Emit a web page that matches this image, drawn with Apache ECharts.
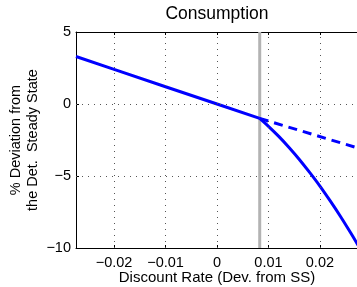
<!DOCTYPE html>
<html>
<head>
<meta charset="utf-8">
<script src="https://cdn.jsdelivr.net/npm/echarts@6/dist/echarts.min.js"></script>
<style>
  html, body { margin: 0; padding: 0; background: #fff; }
  #chart { width: 357px; height: 287px; }
</style>
</head>
<body>
<div id="chart"></div>
<script>
// x range of the plot (discount rate, dev. from SS)
const xRange = [-0.0274, 0.0274];
const xTicks = [-0.02, -0.01, 0, 0.01, 0.02];
const yTicks = [-10, -5, 0, 5];

// before the kink: one line
const commonX = [-0.0274, -0.02, -0.01, 0, 0.0083];
const commonY = [3.3, 2.4, 1.2, 0.0, -1.0];

// after the kink: solid curve
const curveX = [0.0083, 0.0100, 0.0120, 0.0140, 0.0160, 0.0180, 0.0200, 0.0220, 0.0240, 0.0260, 0.0274];
const curveY = [-1.0, -1.55, -2.25, -3.02, -3.85, -4.75, -5.70, -6.73, -7.81, -8.96, -9.8];

// after the kink: dashed continuation
const dashX = [0.0083, 0.0274];
const dashY = [-1.0, -3.06];

// vertical gray marker
const thresholdX = 0.0083;
const yRange = [-10, 5];

const pairs = (xs, ys) => xs.map((x, i) => [x, ys[i]]);
const minus = (s) => s.replace("-", "\u2212");

const font = "'Liberation Sans', Arial, Helvetica, sans-serif";
const chart = echarts.init(document.getElementById("chart"), null, { renderer: "canvas" });

const option = {
  animation: false,
  title: {
    text: "Consumption",
    left: 217,
    top: 5,
    padding: 0,
    textAlign: "center",
    textStyle: { fontFamily: font, fontSize: 17.5, fontWeight: "normal", color: "#000" },
  },
  grid: {
    left: 76,
    right: -1,
    top: 32,
    bottom: 39,
    outerBoundsMode: "none",
  },
  xAxis: [
    {
      type: "value",
      min: xRange[0],
      max: xRange[1],
      position: "bottom",
      axisLine: { show: true, onZero: false, lineStyle: { color: "#000", width: 1 } },
      axisTick: { show: true, inside: true, length: 3, lineStyle: { color: "#000" }, customValues: xTicks },
      axisLabel: {
        color: "#000",
        fontFamily: font,
        fontSize: 14.5,
        margin: 7,
        customValues: xTicks,
        formatter: (v) => minus(v === 0 ? "0" : v.toFixed(2)),
      },
      splitLine: { show: false },
      name: "Discount Rate (Dev. from SS)",
      nameLocation: "middle",
      nameGap: 22,
      nameMoveOverlap: false,
      nameTextStyle: { fontFamily: font, fontSize: 15, color: "#000", verticalAlign: "top" },
    },
    {
      type: "value",
      min: xRange[0],
      max: xRange[1],
      position: "top",
      axisLine: { show: true, onZero: false, lineStyle: { color: "#000", width: 1 } },
      axisTick: { show: true, inside: true, length: 3, lineStyle: { color: "#000" }, customValues: xTicks },
      axisLabel: { show: false },
      splitLine: { show: false },
    },
  ],
  yAxis: {
    type: "value",
    min: yRange[0],
    max: yRange[1],
    interval: 5,
    axisLine: { show: true, onZero: false, lineStyle: { color: "#000", width: 1 } },
    axisTick: { show: true, inside: true, length: 3, lineStyle: { color: "#000" } },
    axisLabel: {
      color: "#000",
      fontFamily: font,
      fontSize: 14.5,
      margin: 5,
      formatter: (v) => minus(String(v)),
    },
    splitLine: { show: false },
    name: "% Deviation from\nthe Det.  Steady State",
    nameLocation: "middle",
    nameGap: 35,
    nameMoveOverlap: false,
    nameTextStyle: { fontFamily: font, fontSize: 14.5, color: "#000", lineHeight: 17 },
  },
  series: [
    {
      // dotted grid lines at the ticks
      type: "line",
      data: [],
      silent: true,
      markLine: {
        symbol: "none",
        silent: true,
        label: { show: false },
        lineStyle: { color: "#555", type: [1, 5], width: 1 },
        data: xTicks.map((x) => ({ xAxis: x })).concat(
          yTicks.filter((y) => y > yRange[0] && y < yRange[1]).map((y) => ({ yAxis: y }))
        ),
      },
    },
    {
      type: "line",
      data: [[thresholdX, yRange[0]], [thresholdX, yRange[1]]],
      showSymbol: false,
      lineStyle: { color: "#b3b3b3", width: 3 },
      z: 3,
    },
    {
      type: "line",
      data: pairs(commonX, commonY),
      showSymbol: false,
      lineStyle: { color: "#0000ff", width: 3 },
      z: 4,
    },
    {
      type: "line",
      data: pairs(curveX, curveY),
      showSymbol: false,
      smooth: 0.3,
      lineStyle: { color: "#0000ff", width: 3 },
      z: 4,
    },
    {
      type: "line",
      data: pairs(dashX, dashY),
      showSymbol: false,
      lineStyle: { color: "#0000ff", width: 3, type: [9, 6] },
      z: 4,
    },
  ],
};

chart.setOption(option);
</script>
</body>
</html>
